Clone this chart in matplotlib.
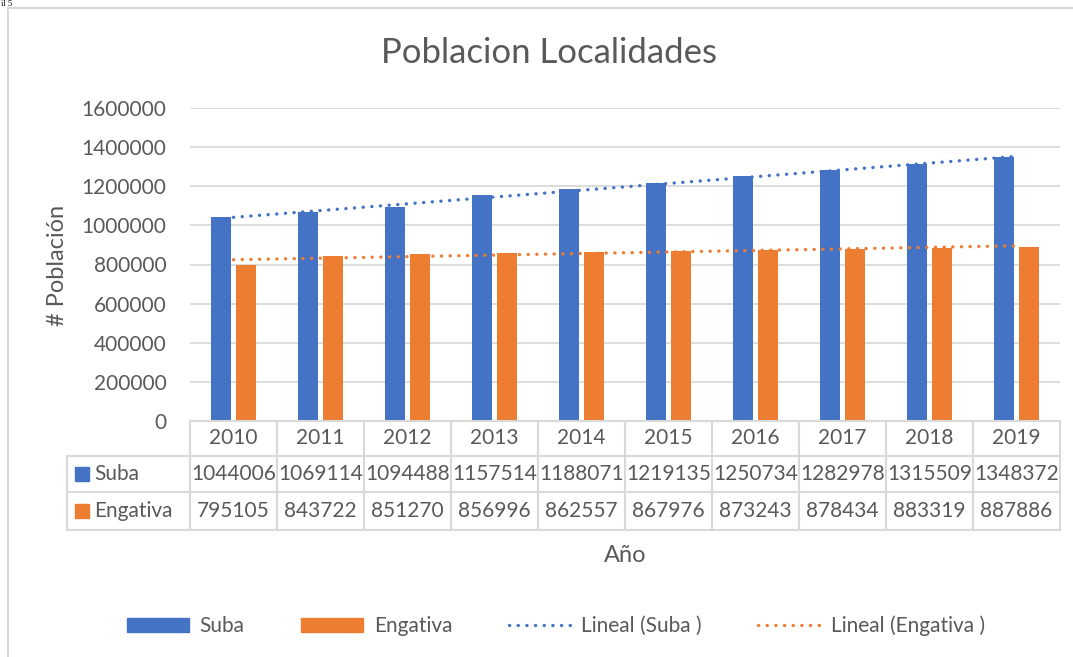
import numpy as np
import matplotlib
matplotlib.use("Agg")
import matplotlib.pyplot as plt
from matplotlib.lines import Line2D
from matplotlib.patches import Patch, Rectangle

plt.rcParams['font.family'] = ['Lato', 'DejaVu Sans']

years = ['2010', '2011', '2012', '2013', '2014', '2015', '2016', '2017', '2018', '2019']
suba = [1044006, 1069114, 1094488, 1157514, 1188071, 1219135, 1250734, 1282978, 1315509, 1348372]
engativa = [795105, 843722, 851270, 856996, 862557, 867976, 873243, 878434, 883319, 887886]
series_names = ['Suba', 'Engativa']
title = 'Poblacion Localidades'
ylabel = '# Población'
xlabel = 'Año'
yticks = [0, 200000, 400000, 600000, 800000, 1000000, 1200000, 1400000, 1600000]

BLUE = '#4472C4'
ORANGE = '#ED7D31'
TXT = '#595959'
GRID = '#D9D9D9'
FS = 15

W, H = 1073, 657
fig = plt.figure(figsize=(W / 100, H / 100), dpi=100)

def fx(px):
    return px / W

def fy(py):
    return 1 - py / H

left_px, right_px, top_px, bot_px = 190, 1060, 108, 421
ax = fig.add_axes([fx(left_px), fy(bot_px), fx(right_px - left_px), (bot_px - top_px) / H])

x = np.arange(len(years))
bw = 0.23
off = 0.146
ax.bar(x - off, suba, width=bw, color=BLUE, zorder=3)
ax.bar(x + off, engativa, width=bw, color=ORANGE, zorder=3)

# linear trendlines (least squares, as in Excel)
xx = x + 1
for vals, col in ((suba, BLUE), (engativa, ORANGE)):
    m, b = np.polyfit(xx, vals, 1)
    ax.plot(x, m * xx + b, color=col, lw=2.4, linestyle=(0, (0.05, 2.55)),
            dash_capstyle='round', zorder=4)

ax.set_xlim(-0.5, len(years) - 0.5)
ax.set_ylim(0, 1600000)
ax.set_yticks(yticks)
ax.set_yticklabels([str(v) for v in yticks], fontsize=FS, color=TXT)
ax.tick_params(axis='y', length=0, pad=17)
ax.set_xticks([])
ax.grid(axis='y', color=GRID, lw=1.3, zorder=0)
for s in ax.spines.values():
    s.set_visible(False)

# Title and axis titles
fig.text(fx(549), fy(53), title, ha='center', va='center', fontsize=25, color=TXT)
fig.text(fx(58), fy(265), ylabel, ha='center', va='center', rotation=90, fontsize=17, color=TXT)
fig.text(fx(625), fy(555), xlabel, ha='center', va='center', fontsize=17, color=TXT)

# Data table
col_w = (right_px - left_px) / len(years)
row_y = [421, 456, 492, 530]
tbl_left = 67
lkw = dict(color=GRID, lw=1.5, transform=fig.transFigure, zorder=5)
fig.add_artist(Line2D([fx(left_px), fx(right_px)], [fy(row_y[0])] * 2, **lkw))
for ry in row_y[1:]:
    fig.add_artist(Line2D([fx(tbl_left), fx(right_px)], [fy(ry)] * 2, **lkw))
for i in range(len(years) + 1):
    xp = left_px + i * col_w
    fig.add_artist(Line2D([fx(xp)] * 2, [fy(row_y[0]), fy(row_y[-1])], **lkw))
fig.add_artist(Line2D([fx(tbl_left)] * 2, [fy(row_y[1]), fy(row_y[-1])], **lkw))

for i, yr in enumerate(years):
    cx = left_px + (i + 0.5) * col_w
    fig.text(fx(cx), fy((row_y[0] + row_y[1]) / 2), yr, ha='center', va='center', fontsize=FS, color=TXT)
    fig.text(fx(cx), fy((row_y[1] + row_y[2]) / 2), str(suba[i]), ha='center', va='center', fontsize=FS, color=TXT)
    fig.text(fx(cx), fy((row_y[2] + row_y[3]) / 2), str(engativa[i]), ha='center', va='center', fontsize=FS, color=TXT)

for r, (name, col) in enumerate(zip(series_names, (BLUE, ORANGE))):
    cy = (row_y[r + 1] + row_y[r + 2]) / 2
    fig.add_artist(Rectangle((fx(75), fy(cy + 7)), fx(14), 14 / H, color=col, transform=fig.transFigure))
    fig.text(fx(94), fy(cy), name, ha='left', va='center', fontsize=FS, color=TXT)

# Legend
ls = (0, (0.05, 2.55))
handles = [Patch(color=BLUE), Patch(color=ORANGE),
           Line2D([], [], color=BLUE, lw=2.4, linestyle=ls, dash_capstyle='round'),
           Line2D([], [], color=ORANGE, lw=2.4, linestyle=ls, dash_capstyle='round')]
labels = ['Suba', 'Engativa', 'Lineal (Suba )', 'Lineal (Engativa )']
leg = fig.legend(handles, labels, loc='center', bbox_to_anchor=(fx(556), fy(626)), ncol=4,
                 frameon=False, fontsize=FS, handlelength=3.0, handleheight=0.65,
                 handletextpad=0.5, columnspacing=2.7, labelcolor=TXT)

# chart border
fig.add_artist(Line2D([fx(8), fx(8)], [fy(8), 0], color=GRID, lw=1.5, transform=fig.transFigure))
fig.add_artist(Line2D([fx(8), 1], [fy(8), fy(8)], color=GRID, lw=1.5, transform=fig.transFigure))

# caption fragment at the top-left
fig.text(fx(1), 1, 'il 5', ha='left', va='top', fontsize=6, family='Liberation Serif', color='black')

fig.savefig('out.png', dpi=100)
